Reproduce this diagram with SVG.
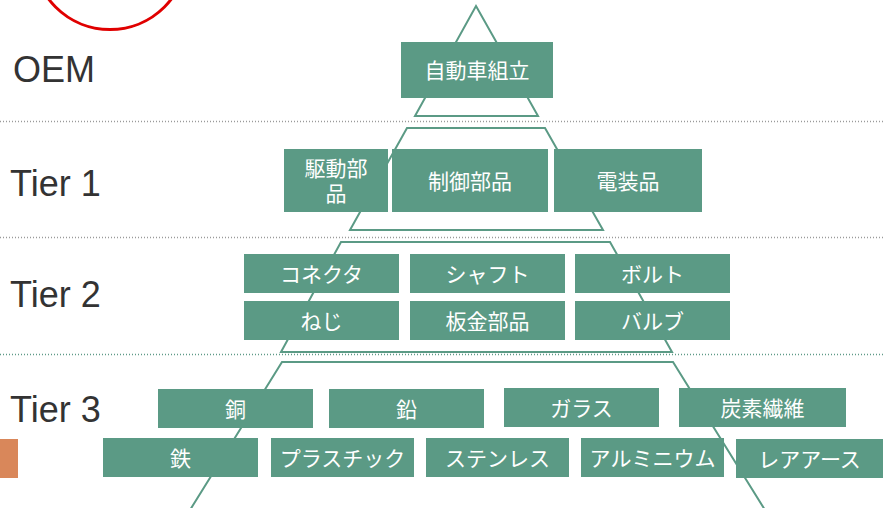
<svg xmlns="http://www.w3.org/2000/svg" width="883" height="508" viewBox="0 0 883 508">
<style>
.box{fill:#5b9a85}
.bt{fill:#ffffff;font-family:"Noto Sans CJK JP","Noto Sans",sans-serif;font-size:21px;text-anchor:middle;dominant-baseline:central}
.tier{fill:#333333;font-family:"Liberation Sans",Arial,sans-serif;font-size:36px}
.shape{fill:none;stroke:#5b9a85;stroke-width:2}
.dot{stroke:#9a9a9a;stroke-width:1.5;stroke-dasharray:1 2}
</style>
<rect width="883" height="508" fill="#ffffff"/>
<circle cx="110" cy="-47.5" r="77" fill="none" stroke="#e00000" stroke-width="3"/>
<rect x="0" y="439" width="18" height="39" fill="#d9875a"/>
<g id="labels">
<text class="tier" x="13" y="82">OEM</text>
<text class="tier" x="10" y="196">Tier 1</text>
<text class="tier" x="10" y="307">Tier 2</text>
<text class="tier" x="10" y="422">Tier 3</text>
</g>
<g id="connectors">
<polygon class="shape" points="476,6 538,116 415,116"/>
<polygon class="shape" points="407,128 545,128 603,230 350,230"/>
<polygon class="shape" points="341,242 610,242 672,352 281,352"/>
<polyline class="shape" points="190,510 282,362 673,362 765,510"/>
<line class="dot" x1="0" y1="121.5" x2="883" y2="121.5"/>
<line class="dot" x1="0" y1="237.5" x2="883" y2="237.5"/>
<line class="dot" x1="0" y1="354.5" x2="883" y2="354.5" style="stroke:#5f9a88"/>
</g>
<g id="n-oem"><rect class="box" x="401" y="42" width="152" height="56"/><text class="bt" x="477" y="69">自動車組立</text></g>
<g id="n-kudo"><rect class="box" x="284" y="149" width="104" height="63"/><text class="bt" x="336" y="166.5">駆動部</text><text class="bt" x="336" y="192">品</text></g>
<g id="n-seigyo"><rect class="box" x="392" y="149" width="156" height="63"/><text class="bt" x="470" y="179.5">制御部品</text></g>
<g id="n-denso"><rect class="box" x="554" y="149" width="148" height="63"/><text class="bt" x="628" y="179.5">電装品</text></g>
<g id="n-connector"><rect class="box" x="244" y="254" width="155" height="39"/><text class="bt" x="321.5" y="272.5">コネクタ</text></g>
<g id="n-shaft"><rect class="box" x="410" y="254" width="155" height="39"/><text class="bt" x="487.5" y="272.5">シャフト</text></g>
<g id="n-bolt"><rect class="box" x="575" y="254" width="155" height="39"/><text class="bt" x="652.5" y="272.5">ボルト</text></g>
<g id="n-neji"><rect class="box" x="244" y="301" width="155" height="39"/><text class="bt" x="321.5" y="319.5">ねじ</text></g>
<g id="n-bankin"><rect class="box" x="410" y="301" width="155" height="39"/><text class="bt" x="487.5" y="319.5">板金部品</text></g>
<g id="n-valve"><rect class="box" x="575" y="301" width="155" height="39"/><text class="bt" x="652.5" y="319.5">バルブ</text></g>
<g id="n-copper"><rect class="box" x="158" y="389" width="155" height="39"/><text class="bt" x="235.5" y="407.5">銅</text></g>
<g id="n-lead"><rect class="box" x="329" y="389" width="155" height="39"/><text class="bt" x="406.5" y="407.5">鉛</text></g>
<g id="n-glass"><rect class="box" x="504" y="388" width="155" height="39"/><text class="bt" x="581.5" y="406.5">ガラス</text></g>
<g id="n-carbon"><rect class="box" x="679" y="388" width="167" height="39"/><text class="bt" x="762.5" y="406.5">炭素繊維</text></g>
<g id="n-iron"><rect class="box" x="103" y="438" width="155" height="39"/><text class="bt" x="180.5" y="456.5">鉄</text></g>
<g id="n-plastic"><rect class="box" x="271" y="438" width="143" height="39"/><text class="bt" x="342.5" y="456.5">プラスチック</text></g>
<g id="n-stainless"><rect class="box" x="426" y="438" width="143" height="39"/><text class="bt" x="497.5" y="456.5">ステンレス</text></g>
<g id="n-aluminium"><rect class="box" x="581" y="438" width="143" height="39"/><text class="bt" x="652.5" y="456.5">アルミニウム</text></g>
<g id="n-rareearth"><rect class="box" x="736" y="439" width="147" height="39"/><text class="bt" x="809.5" y="457.5">レアアース</text></g>
</svg>
